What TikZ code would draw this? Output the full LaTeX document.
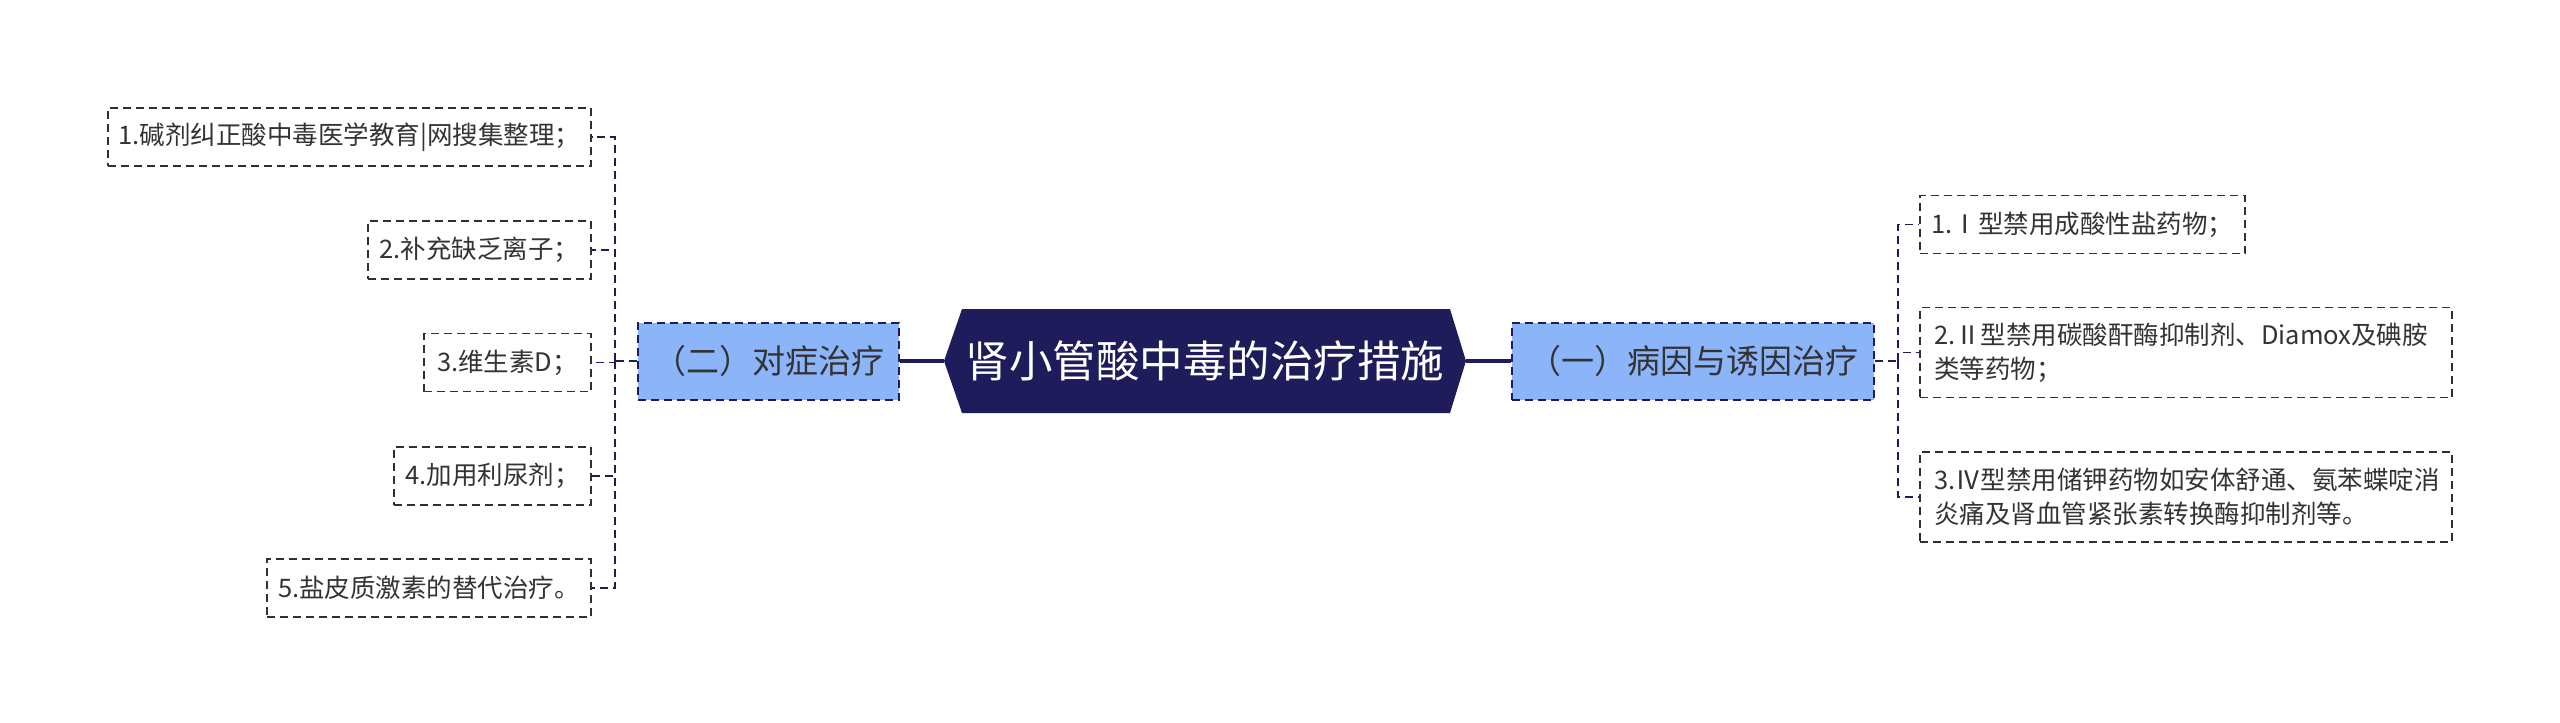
\documentclass[tikz,border=0pt]{standalone}
\usepackage{fontspec}
\setmainfont{Noto Sans CJK SC}
\definecolor{navy}{HTML}{1E1C5A}
\definecolor{lblue}{HTML}{8CB4F9}
\definecolor{txt}{HTML}{333333}
\definecolor{leafline}{HTML}{2E2E3A}
\begin{document}
\begin{tikzpicture}[x=1pt,y=-1pt,
  leaf/.style={draw=leafline, line width=1.8pt, dash pattern=on 8pt off 5pt, fill=white,
    minimum height=58pt, inner sep=0pt, font=\fontsize{25.5}{34}\selectfont, text=txt},
  leafmulti/.style={leaf, minimum width=532pt, minimum height=90pt, align=left,
    text width=504pt},
  sub/.style={draw=navy, line width=2pt, dash pattern=on 8pt off 5pt, fill=lblue,
    minimum height=77pt, inner sep=0pt, font=\fontsize{33}{38}\selectfont, text=txt},
  link/.style={draw=navy, line width=1.8pt, dash pattern=on 8pt off 5pt},
  mainlink/.style={draw=navy, line width=3.5pt}]
\useasboundingbox (0,0) rectangle (2560,723);
\fill[white] (0,0) rectangle (2560,723);

% root hexagon
\fill[navy] (944,361) -- (962,309) -- (1450,309) -- (1466,361) -- (1450,413) -- (962,413) -- cycle;
\node[inner sep=0pt, minimum width=522pt, minimum height=104pt,
  font=\fontsize{43.5}{50}\selectfont, text=white] (root) at (1205,361) {肾小管酸中毒的治疗措施};

% sub nodes
\node[sub, minimum width=261pt] (c2) at (768.5,361) {（二）对症治疗};
\node[sub, minimum width=362pt] (c1) at (1693,361) {（一）病因与诱因治疗};

% left leaves
\node[leaf, minimum width=483pt] (l1) at (349.5,137) {1.碱剂纠正酸中毒医学教育|网搜集整理；};
\node[leaf, minimum width=223pt] (l2) at (479.5,250) {2.补充缺乏离子；};
\node[leaf, minimum width=167pt] (l3) at (507.5,362.5) {3.维生素D；};
\node[leaf, minimum width=197pt] (l4) at (492.5,476) {4.加用利尿剂；};
\node[leaf, minimum width=324pt] (l5) at (429,588) {5.盐皮质激素的替代治疗。};

% right leaves
\node[leaf, minimum width=325pt] (r1) at (2082.5,224.5) {1.Ⅰ型禁用成酸性盐药物；};
\node[leafmulti] (r2) at (2186,352.5) {2.Ⅱ型禁用碳酸酐酶抑制剂、Diamox及碘胺\\类等药物；};
\node[leafmulti] (r3) at (2186,497) {3.Ⅳ型禁用储钾药物如安体舒通、氨苯蝶啶消\\炎痛及肾血管紧张素转换酶抑制剂等。};

% bus coordinates
\coordinate (lbus) at (615,361);
\coordinate (rbus) at (1898,361);

% connectors
\draw[mainlink] (root.west) -- (c2.east);
\draw[mainlink] (root.east) -- (c1.west);
\draw[link] (c2.west) -- (lbus);
\foreach \n in {l1,l2,l3,l4,l5} \draw[link] (lbus) |- (\n.east);
\draw[link] (c1.east) -- (rbus);
\foreach \n in {r1,r2,r3} \draw[link] (rbus) |- (\n.west);
\end{tikzpicture}
\end{document}
